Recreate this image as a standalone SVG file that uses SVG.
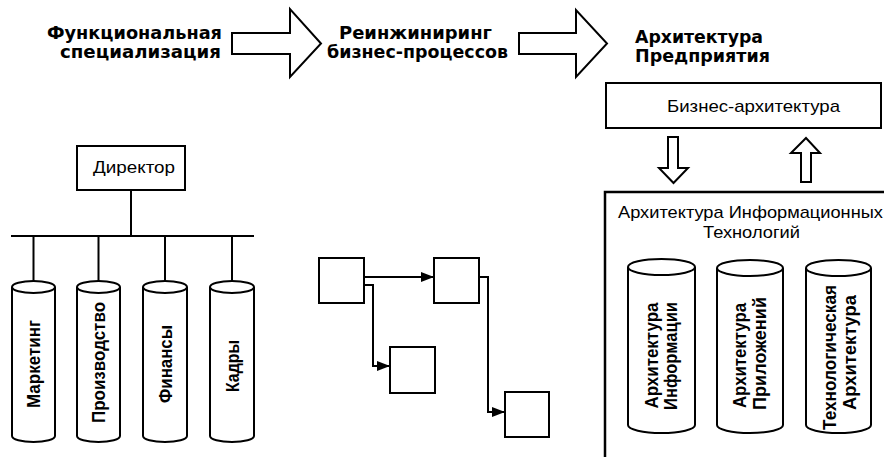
<svg xmlns="http://www.w3.org/2000/svg" width="884" height="457" viewBox="0 0 884 457">
<defs>
<style>
.ln{fill:none;stroke:#000;stroke-width:2}
.bx{fill:#fff;stroke:#000;stroke-width:2}
.hd{font-family:"DejaVu Sans","Liberation Sans",sans-serif;font-weight:bold;font-size:18px;fill:#000}
.tx{font-family:"Liberation Sans","DejaVu Sans",sans-serif;font-size:17px;fill:#000}
.vt{font-family:"Liberation Sans","DejaVu Sans",sans-serif;font-weight:bold;font-size:19px;fill:#000;text-anchor:middle}
</style>
<marker id="ah" viewBox="0 0 13 10" refX="13" refY="5" markerWidth="13" markerHeight="10" markerUnits="userSpaceOnUse" orient="auto">
<path d="M0,0 L13,5 L0,10 Z" fill="#000"/>
</marker>
</defs>
<rect width="884" height="457" fill="#fff"/>

<g id="stage-functional">
<text class="hd" x="47" y="39" textLength="175" lengthAdjust="spacingAndGlyphs">Функциональная</text>
<text class="hd" x="60" y="58" textLength="161" lengthAdjust="spacingAndGlyphs">специализация</text>
</g>
<g id="stage-reengineering">
<text class="hd" x="339" y="39" textLength="153" lengthAdjust="spacingAndGlyphs">Реинжиниринг</text>
<text class="hd" x="327" y="58" textLength="181" lengthAdjust="spacingAndGlyphs">бизнес-процессов</text>
</g>
<g id="stage-enterprise">
<text class="hd" x="635" y="43" textLength="128" lengthAdjust="spacingAndGlyphs">Архитектура</text>
<text class="hd" x="635" y="62" textLength="135" lengthAdjust="spacingAndGlyphs">Предприятия</text>
</g>

<g id="arrow-1">
<polygon class="bx" points="232,33 290,33 290,9 321,43.5 290,77 290,54 232,54"/>
</g>
<g id="arrow-2">
<polygon class="bx" points="519,33 576,33 576,10 607,43.5 576,77 576,54 519,54"/>
</g>

<g id="business-architecture">
<rect class="bx" x="606" y="83" width="275" height="45"/>
<text class="tx" x="667" y="112" font-size="18" textLength="173" lengthAdjust="spacingAndGlyphs">Бизнес-архитектура</text>
</g>

<g id="arrow-down">
<polygon class="bx" points="668,137 678,137 678,168 688,168 673.5,183 659,168 668,168"/>
</g>
<g id="arrow-up">
<polygon class="bx" points="801,182 811,182 811,153 820,153 806,138 791,153 801,153"/>
</g>

<g id="it-architecture">
<path d="M605,460 L605,192 L886,192" fill="none" stroke="#000" stroke-width="2.5"/>
<text class="tx" x="618" y="218" textLength="265" lengthAdjust="spacingAndGlyphs">Архитектура Информационных</text>
<text class="tx" x="703" y="238" textLength="97" lengthAdjust="spacingAndGlyphs">Технологий</text>
</g>

<g id="cyl-information">
<path class="bx" d="M628,267 L628,425 A33.5,8 0 0 0 695,425 L695,267"/>
<ellipse class="bx" cx="661.5" cy="267" rx="33.5" ry="8"/>
<text class="vt" transform="translate(658,355.5) rotate(-90)" textLength="106" lengthAdjust="spacingAndGlyphs">Архитектура</text>
<text class="vt" transform="translate(677,356) rotate(-90)" textLength="108" lengthAdjust="spacingAndGlyphs">Информации</text>
</g>
<g id="cyl-applications">
<path class="bx" d="M717,268 L717,425 A33,8 0 0 0 783,425 L783,268"/>
<ellipse class="bx" cx="750" cy="268" rx="33" ry="8"/>
<text class="vt" transform="translate(746,355.5) rotate(-90)" textLength="105" lengthAdjust="spacingAndGlyphs">Архитектура</text>
<text class="vt" transform="translate(766,353.5) rotate(-90)" textLength="113" lengthAdjust="spacingAndGlyphs">Приложений</text>
</g>
<g id="cyl-technology">
<path class="bx" d="M806,268 L806,425 A32.5,8 0 0 0 871,425 L871,268"/>
<ellipse class="bx" cx="838.5" cy="268" rx="32.5" ry="8"/>
<text class="vt" transform="translate(836,357.5) rotate(-90)" textLength="145" lengthAdjust="spacingAndGlyphs">Технологическая</text>
<text class="vt" transform="translate(856,352.5) rotate(-90)" textLength="115" lengthAdjust="spacingAndGlyphs">Архитектура</text>
</g>

<g id="director">
<rect class="bx" x="77" y="146" width="108" height="44"/>
<text class="tx" x="93" y="173" textLength="82" lengthAdjust="spacingAndGlyphs">Директор</text>
</g>

<g id="cyl-marketing">
<path class="bx" d="M12,287 L12,436 A21.5,6 0 0 0 55,436 L55,287"/>
<ellipse class="bx" cx="33.5" cy="287" rx="21.5" ry="6"/>
<text class="vt" transform="translate(40,364) rotate(-90)" font-size="20" textLength="88" lengthAdjust="spacingAndGlyphs">Маркетинг</text>
</g>
<g id="cyl-production">
<path class="bx" d="M77,287 L77,436 A21.5,6 0 0 0 120,436 L120,287"/>
<ellipse class="bx" cx="98.5" cy="287" rx="21.5" ry="6"/>
<text class="vt" transform="translate(105,362.5) rotate(-90)" font-size="20" textLength="121" lengthAdjust="spacingAndGlyphs">Производство</text>
</g>
<g id="cyl-finance">
<path class="bx" d="M143,287 L143,436 A22,6 0 0 0 187,436 L187,287"/>
<ellipse class="bx" cx="165" cy="287" rx="22" ry="6"/>
<text class="vt" transform="translate(171.5,364) rotate(-90)" font-size="20" textLength="78" lengthAdjust="spacingAndGlyphs">Финансы</text>
</g>
<g id="cyl-hr">
<path class="bx" d="M210,287 L210,436 A22,6 0 0 0 254,436 L254,287"/>
<ellipse class="bx" cx="232" cy="287" rx="22" ry="6"/>
<text class="vt" transform="translate(238.5,366) rotate(-90)" font-size="20" textLength="52" lengthAdjust="spacingAndGlyphs">Кадры</text>
</g>

<g id="proc-a"><rect class="bx" x="319" y="258" width="45" height="45"/></g>
<g id="proc-b"><rect class="bx" x="434" y="258" width="45" height="45"/></g>
<g id="proc-c"><rect class="bx" x="390" y="347" width="45" height="46"/></g>
<g id="proc-d"><rect class="bx" x="505" y="392" width="44" height="45"/></g>

<g id="connectors">
<path class="ln" d="M131,190 L131,236"/>
<path class="ln" d="M11,236 L254,236"/>
<path class="ln" d="M33.5,236 L33.5,281"/>
<path class="ln" d="M98.5,236 L98.5,281"/>
<path class="ln" d="M165,236 L165,281"/>
<path class="ln" d="M232,236 L232,281"/>
<path class="ln" d="M364,277 L434,277" marker-end="url(#ah)"/>
<path class="ln" d="M364,285 L373,285 L373,366 L390,366" marker-end="url(#ah)"/>
<path class="ln" d="M479,277 L488,277 L488,412 L505,412" marker-end="url(#ah)"/>
</g>
</svg>
